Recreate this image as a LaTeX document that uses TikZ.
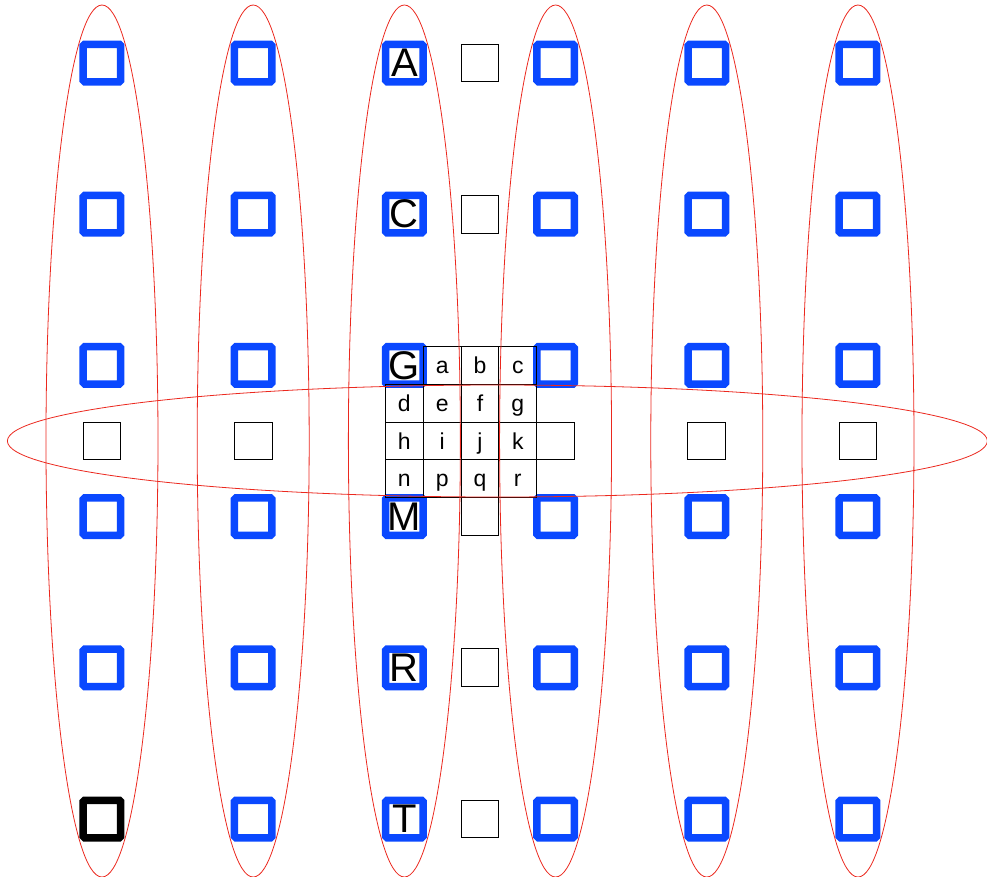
\documentclass[tikz,border=0pt]{standalone}
\usepackage{fontspec}
\setmainfont{Liberation Sans}
\usetikzlibrary{shapes.geometric}
\definecolor{myblue}{RGB}{10,72,255}
\definecolor{myred}{RGB}{235,40,30}
\begin{document}
\begin{tikzpicture}[x=37.8pt,y=-37.8pt,
  bluebox/.style={draw=myblue,line width=7.5pt,minimum size=37.5pt,inner sep=0pt,rounded corners=1.5pt,fill=white,font=\fontsize{40}{40}\selectfont},
  darkbox/.style={bluebox,draw=black},
  cell/.style={draw=black,line width=0.9pt,minimum size=37.8pt,inner sep=0pt,text height=16pt,text depth=0pt,font=\fontsize{23}{23}\selectfont},
  vring/.style={ellipse,draw=myred,line width=0.8pt,minimum width=112pt,minimum height=872pt,inner sep=0pt},
  hring/.style={ellipse,draw=myred,line width=0.8pt,minimum width=980pt,minimum height=112pt,inner sep=0pt}]
\useasboundingbox (-2.698,-1.667) rectangle (23.413,21.534);
% blue squares
\foreach \i in {0,1,3,4,5}{
  \foreach \j in {0,...,5}{
    \ifnum\i=0 \ifnum\j=5 \else
      \node[bluebox] (q-\i-\j) at (4*\i,4*\j) {};
    \fi\else
      \node[bluebox] (q-\i-\j) at (4*\i,4*\j) {};
    \fi
  }
}
\node[darkbox] (q-0-5) at (0,20) {};
\node[bluebox] (q-2-0) at (8,0) {A};
\node[bluebox] (q-2-1) at (8,4) {C};
\node[bluebox] (q-2-2) at (8,8) {G};
\node[bluebox] (q-2-3) at (8,12) {M};
\node[bluebox] (q-2-4) at (8,16) {R};
\node[bluebox] (q-2-5) at (8,20) {T};
% isolated white squares
\node[cell] (w1) at (10,0) {};
\node[cell] (w2) at (10,4) {};
\node[cell] (w3) at (10,16) {};
\node[cell] (w4) at (10,20) {};
\node[cell] (w5) at (10,12) {};
\node[cell] (w6) at (0,10) {};
\node[cell] (w7) at (4,10) {};
\node[cell] (w8) at (16,10) {};
\node[cell] (w9) at (20,10) {};
\node[cell] (w10) at (12,10) {};
% center grid
\node[cell] (ca) at (9,8) {a};
\node[cell] (cb) at (10,8) {b};
\node[cell] (cc) at (11,8) {c};
\node[cell] (cd) at (8,9) {d};
\node[cell] (ce) at (9,9) {e};
\node[cell] (cf) at (10,9) {f};
\node[cell] (cg) at (11,9) {g};
\node[cell] (ch) at (8,10) {h};
\node[cell] (ci) at (9,10) {i};
\node[cell] (cj) at (10,10) {j};
\node[cell] (ck) at (11,10) {k};
\node[cell] (cn) at (8,11) {n};
\node[cell] (cp) at (9,11) {p};
\node[cell] (cq) at (10,11) {q};
\node[cell] (cr) at (11,11) {r};
% ellipses
\foreach \i in {0,...,5}{
  \node[vring] (v\i) at (4*\i,10) {};
}
\node[hring] (hr) at (10.46,10) {};
\end{tikzpicture}
\end{document}
